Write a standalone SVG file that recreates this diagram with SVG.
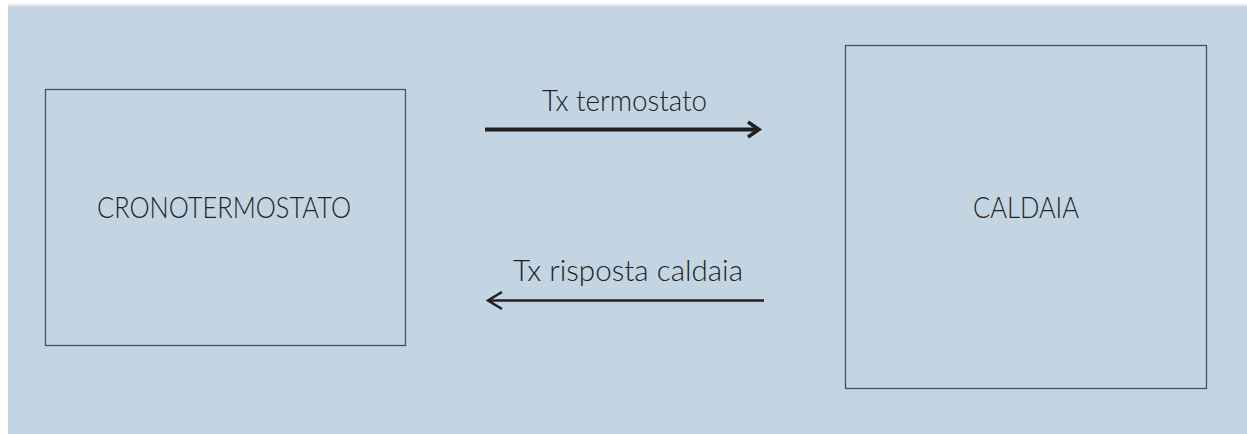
<svg xmlns="http://www.w3.org/2000/svg" width="1247" height="434" viewBox="0 0 1247 434">
  <style>
    .box { fill: none; stroke: #4a4f55; stroke-width: 1.3; }
    .label { font-family: "Lato", "Liberation Sans", sans-serif; font-weight: 300; font-size: 29.5px; fill: #231f20; }
    .wire { fill: none; stroke: #231f20; stroke-linecap: butt; stroke-linejoin: miter; }
  </style>
  <!-- page -->
  <rect x="0" y="0" width="1247" height="434" fill="#ffffff"/>
  <rect x="8" y="4" width="1239" height="2" fill="#e6eaee"/>
  <rect x="8" y="6" width="1239" height="428" fill="#c3d5e3"/>

  <g id="cronotermostato">
    <rect class="box" x="45.5" y="89.5" width="360" height="256"/>
    <text class="label" x="97" y="217.5" textLength="254" lengthAdjust="spacingAndGlyphs">CRONOTERMOSTATO</text>
  </g>

  <g id="caldaia">
    <rect class="box" x="845.5" y="45.5" width="361" height="343"/>
    <text class="label" x="973" y="217.5" textLength="106" lengthAdjust="spacingAndGlyphs">CALDAIA</text>
  </g>

  <g id="connectors">
    <g id="tx-termostato">
      <line class="wire" x1="485" y1="129.5" x2="758" y2="129.5" stroke-width="4"/>
      <polyline class="wire" points="748,122 759,129.5 748,137" stroke-width="3.5"/>
      <text class="label" x="542" y="110.5" textLength="165" lengthAdjust="spacingAndGlyphs">Tx termostato</text>
    </g>
    <g id="tx-risposta">
      <line class="wire" x1="489" y1="300.5" x2="764" y2="300.5" stroke-width="2.5"/>
      <polyline class="wire" points="502,292 488,300.5 502,309" stroke-width="2.5"/>
      <text class="label" x="513" y="280.5" textLength="230" lengthAdjust="spacingAndGlyphs">Tx risposta caldaia</text>
    </g>
  </g>
</svg>
